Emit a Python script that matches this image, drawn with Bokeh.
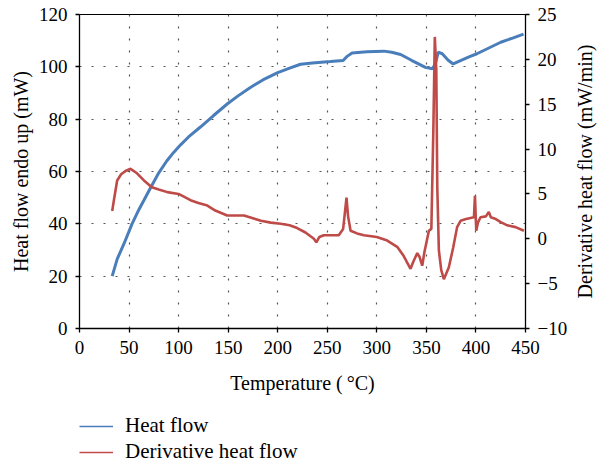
import math
from bokeh.plotting import figure
from bokeh.layouts import column, row
from bokeh.core.properties import value
from bokeh.models import Range1d, LinearAxis, FixedTicker, Legend, LegendItem, ColumnDataSource
from bokeh.embed import file_html
from bokeh.resources import INLINE

# ---- data ----
heat_temp = [33, 38, 45, 53, 60, 65, 72, 80, 88, 95, 102, 110, 122, 135, 149, 160, 172, 185,
             200, 212, 223, 235, 253, 266, 270, 275, 290, 307, 315, 324, 335, 349, 356, 359,
             362, 366, 372, 377, 385, 393, 401, 413, 425, 437, 448]
heat_flow = [20, 26.5, 32.5, 40, 45.5, 49, 54, 59.5, 64, 67.3, 70.2, 73.2, 77, 81.3, 85.8, 88.9, 92, 95,
             97.8, 99.5, 101, 101.5, 102, 102.4, 104, 105.3, 105.8, 106, 105.6, 104.7, 102.5, 99.8,
             99.3, 101, 105.6, 105, 102.5, 101.1, 102.5, 103.8, 105, 107.2, 109.4, 111, 112.5]

deriv_temp = [33, 35, 38, 42, 47, 51.5, 58, 65, 73, 80, 88.5, 100, 112, 120, 129, 137, 149, 157,
              166, 175, 183, 193, 203, 212, 219.6, 228, 236.5, 239, 242, 246.5, 254, 261.6, 266,
              269.4, 271, 273.5, 280, 287, 300, 310.5, 320.5, 327, 334, 337, 340.8, 343, 345.8,
              348, 352.5, 355, 357, 358.5, 360, 361, 362.6, 365, 367.6, 372.6, 377, 381, 384.5,
              390, 398, 399, 400.3, 402, 404.6, 410, 413, 415, 420, 425, 431.6, 440, 448.4]
deriv_flow = [3.1, 4.5, 6.5, 7.2, 7.6, 7.8, 7.3, 6.5, 5.75, 5.5, 5.2, 5.0, 4.3, 4.0, 3.7, 3.15, 2.6,
              2.6, 2.6, 2.3, 2.0, 1.8, 1.67, 1.5, 1.2, 0.7, 0.0, -0.4, 0.2, 0.4, 0.4, 0.4, 1.1,
              4.6, 2.5, 0.9, 0.6, 0.4, 0.2, -0.2, -0.9, -1.9, -3.35, -2.5, -1.6, -2.0, -3.0,
              -1.5, 0.9, 1.1, 12, 22.5, 18.8, 5.75, -1.3, -3.5, -4.5, -3.2, -1.0, 1.3, 2.0,
              2.2, 2.4, 4.8, 0.9, 1.8, 2.4, 2.5, 3.0, 2.4, 2.2, 1.85, 1.5, 1.3, 0.9]

x_ticks = [0, 50, 100, 150, 200, 250, 300, 350, 400, 450]
left_ticks = [0, 20, 40, 60, 80, 100, 120]
right_ticks = [-10, -5, 0, 5, 10, 15, 20, 25]
series_names = ["Heat flow", "Derivative heat flow"]
x_title = "Temperature (\u2009\u00b0C)"
left_title = "Heat flow endo up (mW)"
right_title = "Derivative heat flow (mW/min)"

BLUE = "#4A7EBB"
RED = "#BE4B48"
FONT = "Liberation Serif"

p = figure(frame_width=446, frame_height=314, output_backend="svg", toolbar_location=None,
           x_range=Range1d(0, 450), y_range=Range1d(0, 120),
           min_border_left=79, min_border_right=50, min_border_top=14, min_border_bottom=72)
p.background_fill_color = "white"
p.border_fill_color = "white"
p.outline_line_color = "black"
p.outline_line_width = 1

p.extra_y_ranges = {"deriv": Range1d(-10, 25)}
raxis = LinearAxis(y_range_name="deriv")
p.add_layout(raxis, "right")

for ax in [p.xaxis[0], p.yaxis[0], raxis]:
    ax.axis_line_color = "black"
    ax.axis_line_width = 1.3
    ax.major_tick_line_color = "black"
    ax.major_tick_line_width = 1.3
    ax.major_tick_out = 4
    ax.major_tick_in = 0
    ax.minor_tick_line_color = None
    ax.major_label_text_font = FONT
    ax.major_label_text_font_size = "19px"
    ax.major_label_text_color = "black"
    ax.axis_label_text_font = FONT
    ax.axis_label_text_font_size = "20px"
    ax.axis_label_text_font_style = "normal"
    ax.axis_label_text_color = "black"

p.xaxis[0].ticker = FixedTicker(ticks=x_ticks)
p.yaxis[0].ticker = FixedTicker(ticks=left_ticks)
raxis.ticker = FixedTicker(ticks=right_ticks)
raxis.major_label_overrides = {-5: "\u22125", -10: "\u221210"}

p.xaxis[0].axis_label = x_title
p.yaxis[0].axis_label = left_title

p.xaxis[0].major_label_standoff = 8
p.xaxis[0].axis_label_standoff = 15
p.yaxis[0].major_label_standoff = 8
p.yaxis[0].axis_label_standoff = 4
raxis.major_label_standoff = 8

p.xgrid.ticker = FixedTicker(ticks=x_ticks[1:-1])
p.ygrid.ticker = FixedTicker(ticks=left_ticks[1:-1])
for g in [p.xgrid[0], p.ygrid[0]]:
    g.grid_line_color = "#555555"
    g.grid_line_width = 1.2
    g.grid_line_dash = "2 10"

p.line(heat_temp, heat_flow, line_color=BLUE, line_width=3)
p.line(deriv_temp, deriv_flow, line_color=RED, line_width=2.6, y_range_name="deriv")

# ---- right axis title (reads bottom-to-top) in a narrow strip ----
rlab = figure(width=29, height=400, output_backend="svg", toolbar_location=None,
              x_axis_location=None, y_axis_location=None,
              min_border_left=0, min_border_right=0, min_border_top=14, min_border_bottom=72,
              x_range=Range1d(0, 29), y_range=Range1d(0, 1))
rlab.outline_line_color = None
rlab.xgrid.visible = False
rlab.ygrid.visible = False
rlab.text(x=[9], y=[0.5], text=[right_title], angle=math.pi / 2,
          text_align="center", text_baseline="middle",
          text_font=value(FONT), text_font_size="20px", text_color="black")

# ---- legend strip below the chart ----
lg = figure(frame_width=446, height=64, output_backend="svg", toolbar_location=None,
            x_axis_location=None, y_axis_location=None,
            min_border_left=79, min_border_right=79, min_border_top=0, min_border_bottom=0,
            x_range=Range1d(0, 1), y_range=Range1d(0, 1))
lg.outline_line_color = None
lg.xgrid.visible = False
lg.ygrid.visible = False
nan = float("nan")
src_b = ColumnDataSource(data=dict(x=[nan], y=[nan]))
src_r = ColumnDataSource(data=dict(x=[nan], y=[nan]))
lb = lg.line("x", "y", source=src_b, line_color=BLUE, line_width=1.5)
lr = lg.line("x", "y", source=src_r, line_color=RED, line_width=1.5)

legend = Legend(items=[LegendItem(label=series_names[0], renderers=[lb]),
                       LegendItem(label=series_names[1], renderers=[lr])],
                location=(0, 0), orientation="vertical",
                background_fill_alpha=0, border_line_alpha=0,
                padding=0, margin=0, spacing=1,
                glyph_width=34, glyph_height=22, label_height=22, label_standoff=12,
                label_text_font=FONT, label_text_font_size="21px", label_text_color="black")
lg.add_layout(legend, "center")

layout = column(row(p, rlab, spacing=0), lg, spacing=0)
open("out.html", "w").write(file_html(layout, INLINE))
